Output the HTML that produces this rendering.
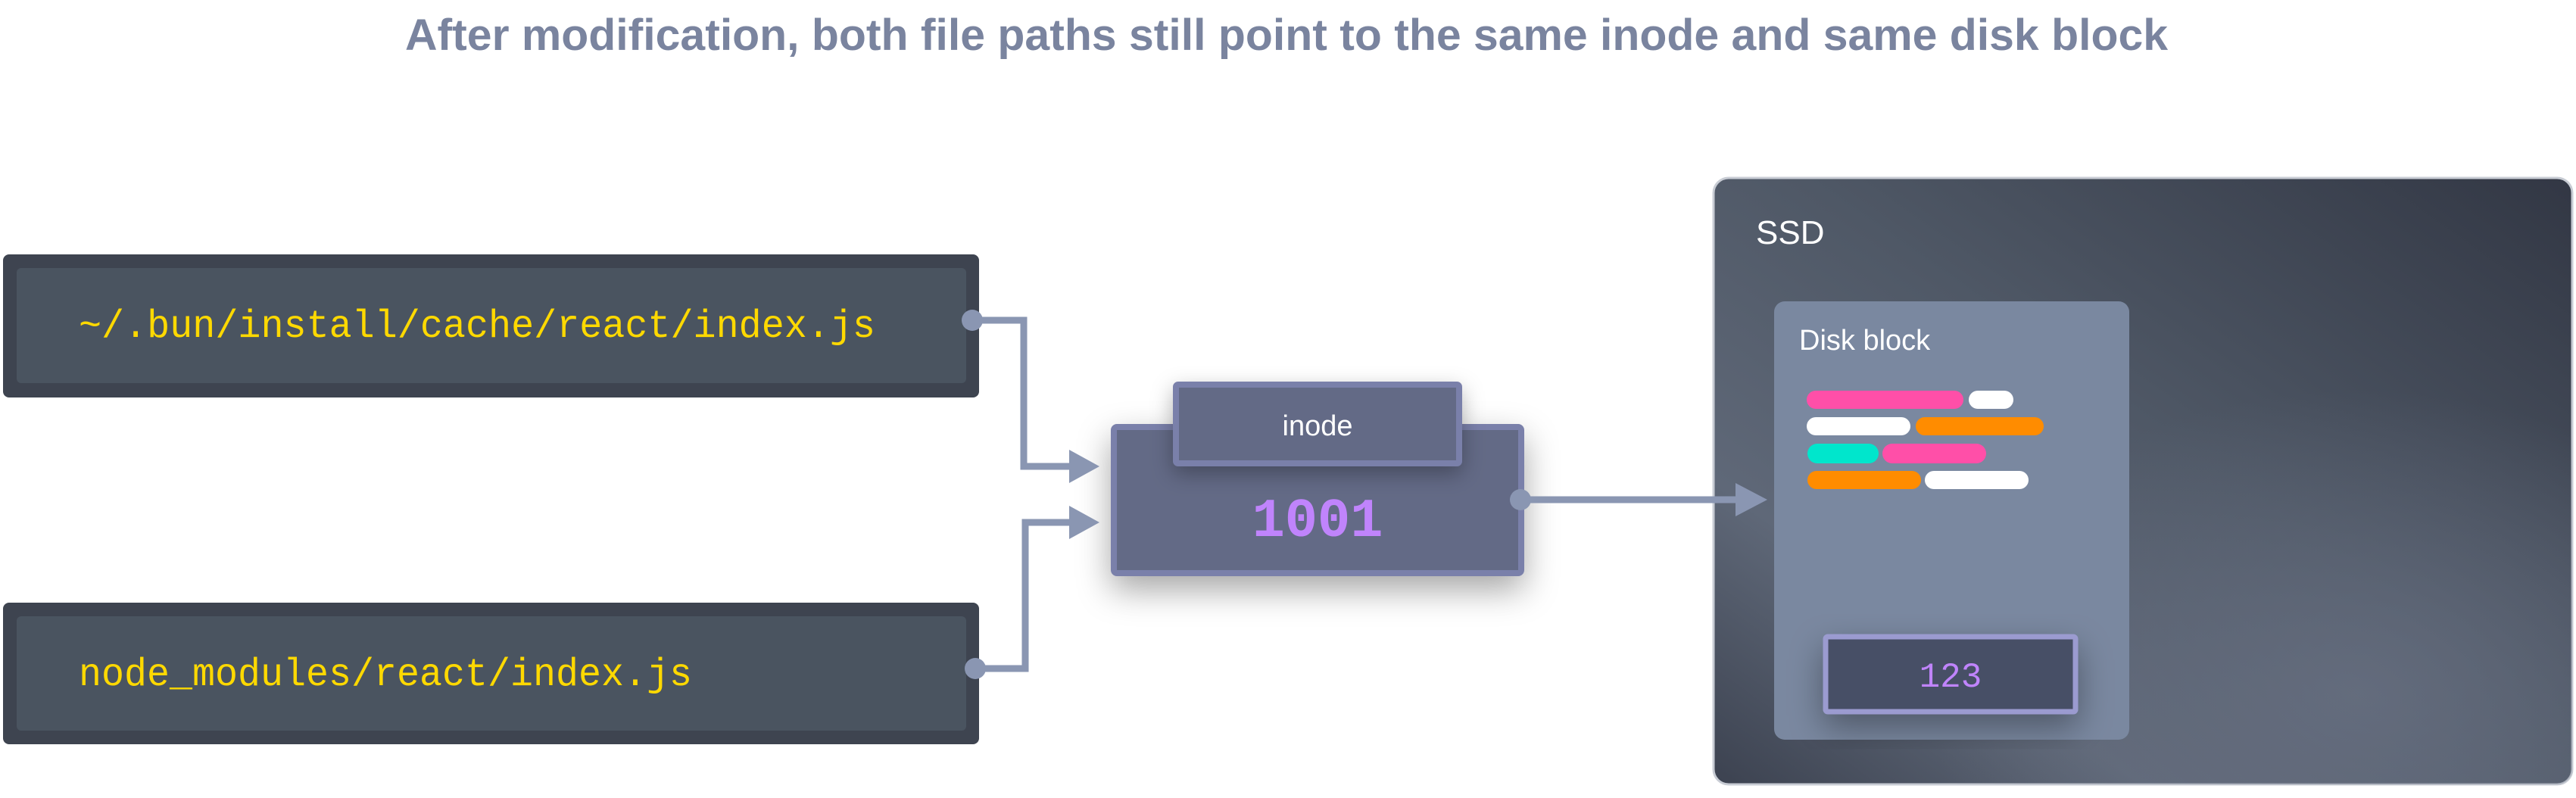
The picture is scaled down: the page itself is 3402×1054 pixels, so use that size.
<!DOCTYPE html>
<html><head><meta charset="utf-8"><style>
html,body{margin:0;padding:0;background:#fff;}
svg{display:block}
</style></head><body>
<svg width="3402" height="1054" viewBox="0 0 3402 1054" xmlns="http://www.w3.org/2000/svg">
<defs>
<linearGradient id="ssd" x1="1" y1="0" x2="0" y2="1">
<stop offset="0" stop-color="#323744"/>
<stop offset="0.45" stop-color="#4f5866"/>
<stop offset="0.75" stop-color="#5f6878"/>
<stop offset="1" stop-color="#3c4250"/>
</linearGradient>
<radialGradient id="ssd2" cx="0.75" cy="0.85" r="0.5">
<stop offset="0" stop-color="#6a7284" stop-opacity="0.7"/>
<stop offset="1" stop-color="#6a7284" stop-opacity="0"/>
</radialGradient>
<filter id="sh" x="-30%" y="-30%" width="160%" height="180%">
<feDropShadow dx="0" dy="18" stdDeviation="22" flood-color="#000" flood-opacity="0.35"/>
</filter>
<filter id="sh2" x="-30%" y="-30%" width="160%" height="180%">
<feDropShadow dx="0" dy="10" stdDeviation="14" flood-color="#000" flood-opacity="0.3"/>
</filter>
</defs>

<text x="1699" y="66" text-anchor="middle" textLength="2328" lengthAdjust="spacingAndGlyphs" font-family="Liberation Sans, sans-serif" font-weight="bold" font-size="58" fill="#7a849f">After modification, both file paths still point to the same inode and same disk block</text>

<!-- path boxes -->
<rect x="4" y="336" width="1289" height="189" rx="8" fill="#3e4450"/>
<rect x="22" y="354" width="1254" height="152" rx="6" fill="#4a5460"/>
<text x="104" y="445" textLength="1052" lengthAdjust="spacingAndGlyphs" font-family="Liberation Mono, monospace" font-size="52" fill="#ffd900">~/.bun/install/cache/react/index.js</text>

<rect x="4" y="796" width="1289" height="187" rx="8" fill="#3e4450"/>
<rect x="22" y="814" width="1254" height="151" rx="6" fill="#4a5460"/>
<text x="104" y="905" textLength="810" lengthAdjust="spacingAndGlyphs" font-family="Liberation Mono, monospace" font-size="52" fill="#ffd900">node_modules/react/index.js</text>

<!-- SSD -->
<rect x="2263" y="235" width="1134" height="801" rx="20" fill="url(#ssd)" stroke="#c8ccd4" stroke-width="3"/>
<rect x="2263" y="235" width="1134" height="801" rx="20" fill="url(#ssd2)"/>
<text x="2319" y="322" font-family="Liberation Sans, sans-serif" font-size="44" fill="#ffffff">SSD</text>

<rect x="2343" y="398" width="469" height="579" rx="14" fill="#7a88a0"/>
<text x="2376" y="462" font-family="Liberation Sans, sans-serif" font-size="38" fill="#ffffff">Disk block</text>

<g>
<rect x="2386" y="516" width="207" height="24" rx="12" fill="#ff4fa8"/>
<rect x="2600" y="516" width="59" height="24" rx="12" fill="#ffffff"/>
<rect x="2386" y="551" width="137" height="24" rx="12" fill="#ffffff"/>
<rect x="2530" y="551" width="169" height="24" rx="12" fill="#ff8c00"/>
<rect x="2387" y="586" width="94" height="26" rx="13" fill="#00e6cc"/>
<rect x="2486" y="586" width="137" height="26" rx="13" fill="#ff4fa8"/>
<rect x="2387" y="622" width="150" height="24" rx="12" fill="#ff8c00"/>
<rect x="2542" y="622" width="137" height="24" rx="12" fill="#ffffff"/>
</g>

<g filter="url(#sh)">
<rect x="2411" y="841" width="330" height="99" rx="3" fill="#474f66" stroke="#9b9bd0" stroke-width="7"/>
</g>
<text x="2576" y="907" text-anchor="middle" font-family="Liberation Mono, monospace" font-size="46" fill="#c084fc">123</text>

<!-- inode -->
<g filter="url(#sh)">
<rect x="1471" y="564" width="538" height="193" rx="4" fill="#636b86" stroke="#7a80aa" stroke-width="8"/>
</g>
<g filter="url(#sh2)">
<rect x="1553" y="508" width="374" height="104" rx="3" fill="#636b86" stroke="#7a80aa" stroke-width="8"/>
</g>
<text x="1740" y="575" text-anchor="middle" font-family="Liberation Sans, sans-serif" font-size="38" fill="#ffffff">inode</text>
<text x="1740" y="708" text-anchor="middle" font-family="Liberation Mono, monospace" font-weight="bold" font-size="72" fill="#c084fc">1001</text>

<!-- connectors -->
<g fill="none" stroke="#8a96b2" stroke-width="9">
<polyline points="1284,423 1352,423 1352,616 1420,616"/>
<polyline points="1288,883 1354,883 1354,690 1420,690"/>
<polyline points="2008,660 2300,660"/>
</g>
<g fill="#8a96b2">
<circle cx="1284" cy="423" r="14"/>
<circle cx="1288" cy="883" r="14"/>
<circle cx="2008" cy="660" r="14"/>
<polygon points="1412,594 1452,616 1412,638"/>
<polygon points="1412,668 1452,690 1412,712"/>
<polygon points="2292,638 2334,660 2292,682"/>
</g>
</svg>
</body></html>
